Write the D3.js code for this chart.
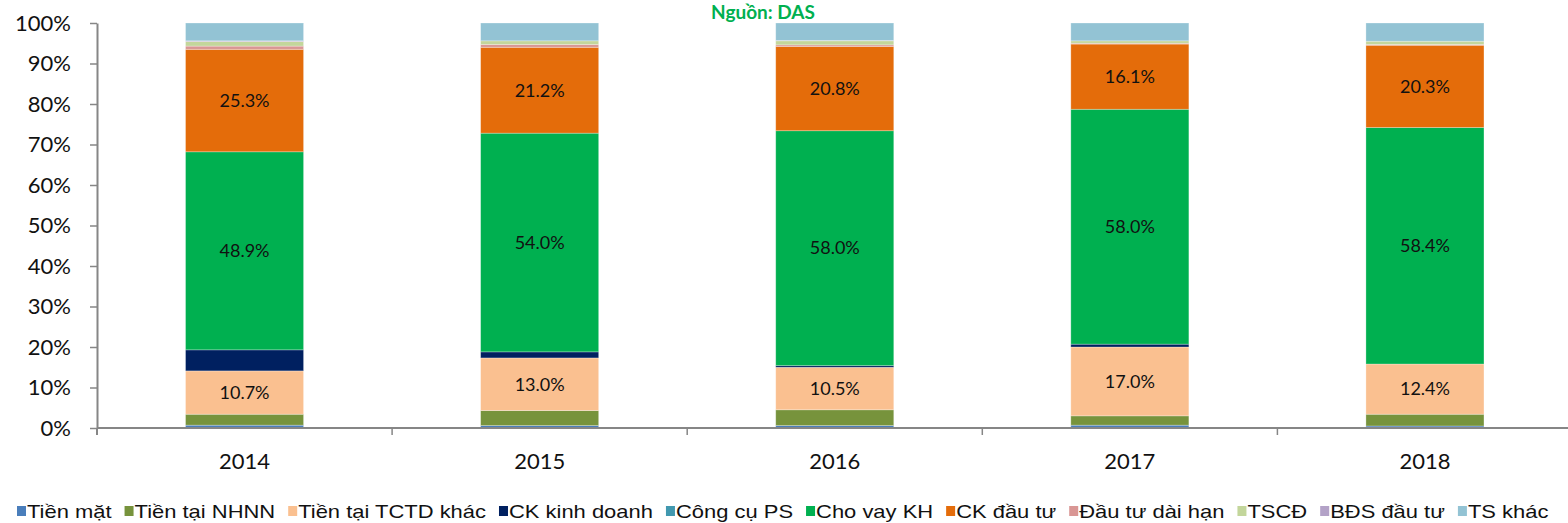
<!DOCTYPE html>
<html>
<head>
<meta charset="utf-8">
<script src="https://cdn.jsdelivr.net/npm/d3@7"></script>
<style>
  body { margin: 0; background: #fff; }
  svg { display: block; }
</style>
</head>
<body>
<div id="chart"></div>
<script>
// Données (en %)
const years = ["2014", "2015", "2016", "2017", "2018"];
const seriesNames = ["Tiền mặt", "Tiền tại NHNN", "Tiền tại TCTD khác", "CK kinh doanh", "Công cụ PS",
                     "Cho vay KH", "CK đầu tư", "Đầu tư dài hạn", "TSCĐ", "BĐS đầu tư", "TS khác"];
const seriesColors = ["#4A7EBB", "#77933C", "#FAC090", "#002060", "#4198AF",
                      "#00B050", "#E46C0A", "#D99694", "#C3D69B", "#B3A2C7", "#93C3D4"];
const tienMat     = [0.7, 0.6, 0.6, 0.7, 0.5];
const tienNHNN    = [2.7, 3.7, 3.9, 2.3, 2.9];
const tienTCTD    = [10.7, 13.0, 10.5, 17.0, 12.4];
const ckKinhDoanh = [5.2, 1.5, 0.4, 0.7, 0.0];
const congCuPS    = [0.0, 0.0, 0.0, 0.0, 0.0];
const choVayKH    = [48.9, 54.0, 58.0, 58.0, 58.4];
const ckDauTu     = [25.3, 21.2, 20.8, 16.1, 20.3];
const dauTuDaiHan = [0.8, 0.7, 0.4, 0.2, 0.2];
const tscd        = [1.1, 0.9, 1.0, 0.6, 0.8];
const bdsDauTu    = [0.2, 0.0, 0.1, 0.0, 0.0];
const tsKhac      = [4.4, 4.4, 4.3, 4.4, 4.5];
const seriesValues = [tienMat, tienNHNN, tienTCTD, ckKinhDoanh, congCuPS,
                      choVayKH, ckDauTu, dauTuDaiHan, tscd, bdsDauTu, tsKhac];
const labelledSeries = ["Tiền tại TCTD khác", "Cho vay KH", "CK đầu tư"];
const yTicks = [0, 10, 20, 30, 40, 50, 60, 70, 80, 90, 100];

const width = 1568, height = 523;
const margin = {top: 23, left: 97, bottom: 95};
const axisColor = "#868686";

const svg = d3.select("#chart").append("svg")
  .attr("width", width).attr("height", height);

// Tableau pour d3.stack
const rows = years.map((y, i) => {
  const r = {year: y};
  seriesNames.forEach((s, k) => { r[s] = seriesValues[k][i]; });
  return r;
});
const stacked = d3.stack().keys(seriesNames)(rows);

const x = d3.scaleBand().domain(years)
  .range([margin.left, 1572.5]).paddingInner(0.6).paddingOuter(0.3);
const y = d3.scaleLinear().domain([0, 100]).range([height - margin.bottom, margin.top]);

// Titre
svg.append("text")
  .attr("x", 763).attr("y", 19)
  .attr("text-anchor", "middle")
  .attr("font-family", "Lato, 'Open Sans', sans-serif")
  .attr("font-weight", "bold")
  .attr("font-size", 19)
  .attr("fill", "#00B050")
  .text("Nguồn: DAS");

// Barres empilées
const layer = svg.append("g").selectAll("g")
  .data(stacked).enter().append("g")
  .attr("fill", (d, i) => seriesColors[i]);

layer.selectAll("rect")
  .data(d => d.map(v => ({v, key: d.key})))
  .enter().append("rect")
  .attr("x", d => x(d.v.data.year))
  .attr("width", x.bandwidth())
  .attr("y", d => y(d.v[1]))
  .attr("height", d => Math.max(0, y(d.v[0]) - y(d.v[1])))
  .attr("stroke", "#fff")
  .attr("stroke-opacity", 0.35)
  .attr("stroke-width", 0.8);

// Étiquettes de valeurs
stacked.filter(s => labelledSeries.includes(s.key)).forEach(s => {
  svg.append("g").selectAll("text")
    .data(s).enter().append("text")
    .attr("x", d => x(d.data.year) + x.bandwidth() / 2)
    .attr("y", d => y((d[0] + d[1]) / 2))
    .attr("dy", "0.35em")
    .attr("text-anchor", "middle")
    .attr("font-family", "Lato, 'Open Sans', sans-serif")
    .attr("font-size", 18)
    .attr("fill", "#111")
    .text(d => (d[1] - d[0]).toFixed(1) + "%");
});

// Axe Y
const yAxis = svg.append("g")
  .attr("transform", `translate(${margin.left},0)`)
  .call(d3.axisLeft(y).tickValues(yTicks).tickFormat(d => d + "%").tickSize(7).tickSizeOuter(0).tickPadding(19));
yAxis.select(".domain").attr("stroke", axisColor).attr("stroke-width", 2);
yAxis.selectAll(".tick line").attr("stroke", axisColor).attr("stroke-width", 1.5);
yAxis.selectAll(".tick text")
  .attr("font-family", "Lato, 'Open Sans', sans-serif")
  .attr("font-size", 22).attr("fill", "#111");

// Axe X : ligne + graduations entre catégories
const baseY = y(0);
svg.append("line")
  .attr("x1", margin.left).attr("x2", width)
  .attr("y1", baseY).attr("y2", baseY)
  .attr("stroke", axisColor).attr("stroke-width", 2);
const step = x.step();
const sepX = years.slice(1).map(yr => x(yr) - step * x.paddingInner() / 2);
svg.append("g").selectAll("line")
  .data(sepX).enter().append("line")
  .attr("x1", d => d).attr("x2", d => d)
  .attr("y1", baseY).attr("y2", baseY + 7)
  .attr("stroke", axisColor).attr("stroke-width", 1.5);
svg.append("line")
  .attr("x1", margin.left).attr("x2", margin.left)
  .attr("y1", baseY).attr("y2", baseY + 7)
  .attr("stroke", axisColor).attr("stroke-width", 2);

svg.append("g").selectAll("text")
  .data(years).enter().append("text")
  .attr("x", d => x(d) + x.bandwidth() / 2)
  .attr("y", 469)
  .attr("text-anchor", "middle")
  .attr("font-family", "Lato, 'Open Sans', sans-serif")
  .attr("font-size", 22).attr("fill", "#111")
  .text(d => d);

// Légende
const legend = svg.append("g");
const stretch = 1.22;
let lx = 17;
seriesNames.forEach((name, i) => {
  legend.append("rect")
    .attr("x", lx).attr("y", 506)
    .attr("width", 9).attr("height", 10)
    .attr("fill", seriesColors[i]);
  const t = legend.append("text")
    .attr("transform", `translate(${lx + 10},518) scale(${stretch},1)`)
    .attr("font-family", "'Liberation Sans', Arial, sans-serif")
    .attr("font-size", 18).attr("fill", "#111")
    .text(name);
  lx += 10 + t.node().getComputedTextLength() * stretch + 13;
});
</script>
</body>
</html>
